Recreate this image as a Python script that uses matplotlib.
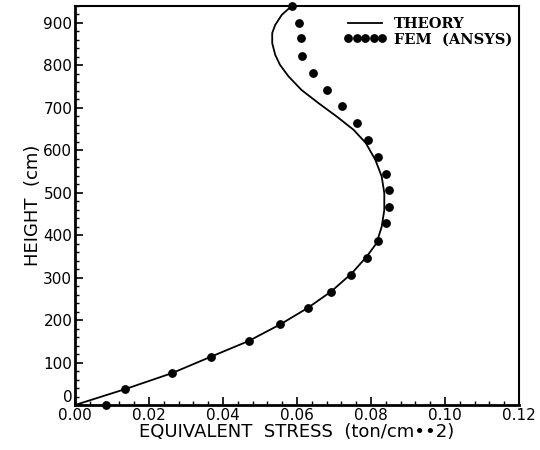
import matplotlib
matplotlib.use('Agg')
import matplotlib.pyplot as plt
from matplotlib.ticker import MultipleLocator, AutoMinorLocator

# Theory curve
theory_height = [0, 37, 75, 114, 151, 190, 228, 267, 310, 349, 381, 420, 459,
                 499, 538, 577, 617, 648, 679, 711, 742, 774, 801, 825, 852,
                 876, 895, 919, 940]
theory_stress = [0.0, 0.0134, 0.0262, 0.0368, 0.0470, 0.0555, 0.0628, 0.0692,
                 0.0748, 0.0788, 0.0815, 0.0829, 0.0836, 0.0836, 0.0829,
                 0.0812, 0.0786, 0.0753, 0.0708, 0.0658, 0.0612, 0.0577,
                 0.0554, 0.0541, 0.0533, 0.0533, 0.0541, 0.0559, 0.0586]

# FEM (ANSYS) points
fem_height = [0, 37, 75, 114, 151, 190, 228, 267, 307, 346, 387, 429, 467,
              506, 545, 585, 623, 663, 703, 742, 783, 821, 864, 900, 940]
fem_stress = [0.0084, 0.0134, 0.0262, 0.0368, 0.0470, 0.0555, 0.0630, 0.0693,
              0.0745, 0.0788, 0.0819, 0.0840, 0.0849, 0.0849, 0.0840, 0.0819,
              0.0793, 0.0761, 0.0721, 0.0682, 0.0644, 0.0614, 0.0610, 0.0605,
              0.0587]

xticks = [0, 0.02, 0.04, 0.06, 0.08, 0.10, 0.12]
xtick_labels = ['0.00', '0.02', '0.04', '0.06', '0.08', '0.10', '0.12']
yticks = [0, 100, 200, 300, 400, 500, 600, 700, 800, 900]

fig = plt.figure(figsize=(5.4, 4.5), dpi=100)
ax = fig.add_axes([0.139, 0.10, 0.822, 0.887])

ax.plot(theory_stress, theory_height, color='black', lw=1.3, label='THEORY',
        clip_on=False)
ax.plot(fem_stress, fem_height, linestyle='none', marker='o', ms=5.3,
        color='black', label='FEM  (ANSYS)', clip_on=False)

ax.set_xlim(0, 0.12)
ax.set_ylim(0, 940)
ax.set_xticks(xticks)
ax.set_xticklabels(xtick_labels)
ax.set_yticks(yticks)
ax.xaxis.set_minor_locator(AutoMinorLocator(5))
ax.yaxis.set_minor_locator(AutoMinorLocator(5))

ax.tick_params(which='both', direction='in', top=False, right=False,
               labelsize=11, pad=2)
ax.tick_params(which='major', length=6, width=1.2)
ax.tick_params(which='minor', length=3, width=1.0)

# the "0" on the height axis sits just above the x axis, as in the scan
ax.yaxis.get_major_ticks()[0].label1.set_verticalalignment('bottom')

for side in ['left', 'bottom']:
    ax.spines[side].set_linewidth(2.0)
for side in ['top', 'right']:
    ax.spines[side].set_linewidth(1.5)

ax.set_xlabel('EQUIVALENT  STRESS  (ton/cm••2)', fontsize=13, labelpad=0)
ax.set_ylabel('HEIGHT  (cm)', fontsize=13, labelpad=1)

ax.legend(loc='upper left', bbox_to_anchor=(0.605, 0.972), frameon=False,
          numpoints=5, handlelength=2.95, handletextpad=0.5, labelspacing=0.1,
          borderaxespad=0, borderpad=0,
          prop={'family': 'DejaVu Serif', 'weight': 'bold', 'size': 10.5})

fig.savefig('out.png', dpi=100)
